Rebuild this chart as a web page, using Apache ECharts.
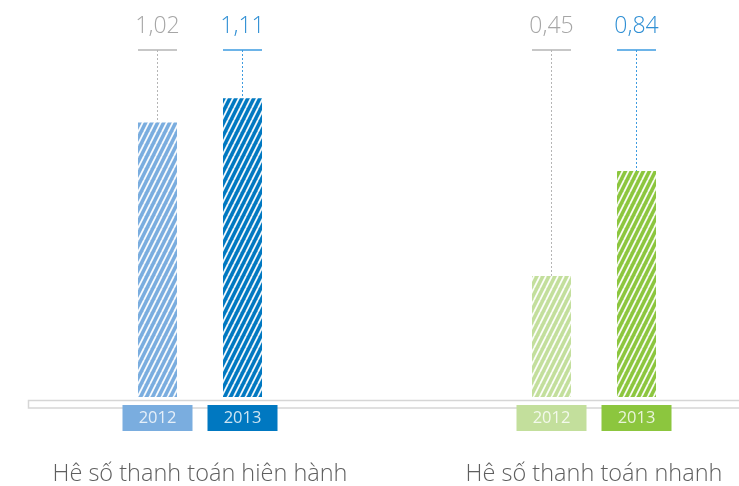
<!DOCTYPE html>
<html>
<head>
<meta charset="utf-8">
<script src="https://cdn.jsdelivr.net/npm/echarts@6/dist/echarts.min.js"></script>
<style>
  html, body { margin: 0; padding: 0; background: #fff; }
  #main { width: 739px; height: 486px; }
</style>
</head>
<body>
<div id="main"></div>
<script>
  // du lieu
  var categories = ['Hê số thanh toán hiên hành', 'Hê số thanh toán nhanh'];
  var years = ['2012', '2013'];
  var values2012 = [1.02, 0.45];
  var values2013 = [1.11, 0.84];
  var labels2012 = ['1,02', '0,45'];
  var labels2013 = ['1,11', '0,84'];

  var barColors = {
    '2012': ['#7aaddf', '#c3df9c'],
    '2013': ['#0078c1', '#8cc63e']
  };
  var labelColors = { '2012': '#a6a6a6', '2013': '#2f8fd4' };
  var lineColors = { '2012': '#b5b5b5', '2013': '#3d9be0' };

  var BAR_W = 39;
  var OFFSET = 42.5;

  // truc x: 2 nhom, cach nhau bang mot o trong
  var axisCats = [categories[0], '', categories[1]];
  function slot(i) { return i * 2; }

  // soc trang
  function hatch(color) {
    var c = document.createElement('canvas');
    c.width = 6; c.height = 12;
    var g = c.getContext('2d');
    g.fillStyle = color;
    g.fillRect(0, 0, 6, 12);
    g.strokeStyle = 'rgba(255,255,255,0.95)';
    g.lineWidth = 1.8;
    for (var k = -1; k <= 1; k++) {
      g.beginPath();
      g.moveTo(k * 6, 12);
      g.lineTo(k * 6 + 6, 0);
      g.stroke();
    }
    return { image: c, repeat: 'repeat' };
  }

  function barData(year, vals) {
    var out = axisCats.map(function () { return '-'; });
    vals.forEach(function (v, i) {
      out[slot(i)] = { value: v, itemStyle: { color: hatch(barColors[year][i]) } };
    });
    return out;
  }

  function annotate(year, offset, labels) {
    return function (params, api) {
      var cat = api.value(0), v = api.value(1);
      var base = api.coord([cat, 0]);
      var top = api.coord([cat, v]);
      var cs = params.coordSys;
      var x = base[0] + offset;
      var lineY = cs.y + 50;
      return {
        type: 'group',
        children: [
          {
            type: 'text',
            style: {
              x: x, y: cs.y + 26.5, text: labels[params.dataIndex],
              align: 'center', verticalAlign: 'middle',
              fontFamily: 'Open Sans', fontSize: 23, fontWeight: 300,
              fill: labelColors[year]
            }
          },
          {
            type: 'line',
            shape: { x1: x - BAR_W / 2, y1: lineY, x2: x + BAR_W / 2, y2: lineY },
            style: { stroke: lineColors[year], lineWidth: 1.5 }
          },
          {
            type: 'line',
            shape: { x1: x, y1: lineY, x2: x, y2: top[1] },
            style: { stroke: lineColors[year], lineWidth: 1, lineDash: [2, 2] }
          },
          {
            type: 'rect',
            shape: { x: x - 35, y: base[1] + 8, width: 70, height: 26 },
            style: { fill: barColors[year][params.dataIndex] }
          },
          {
            type: 'text',
            style: {
              x: x, y: base[1] + 21.5, text: year,
              align: 'center', verticalAlign: 'middle',
              fontFamily: 'Open Sans', fontSize: 16.5,
              fill: 'rgba(255,255,255,0.8)'
            }
          }
        ]
      };
    };
  }

  var chart = echarts.init(document.getElementById('main'));
  chart.setOption({
    animation: false,
    grid: { left: 101.5, top: 0, width: 591, height: 400, containLabel: false },
    xAxis: {
      type: 'category',
      data: axisCats,
      axisLine: { show: false },
      axisTick: { show: false },
      axisLabel: {
        margin: 65, fontFamily: 'Open Sans', fontSize: 23.5, fontWeight: 300,
        color: '#5f5f5f', interval: 0
      }
    },
    yAxis: {
      type: 'value', min: 0, max: 1.475,
      show: false, splitLine: { show: false }
    },
    graphic: [{
      type: 'rect',
      shape: { x: 28.5, y: 400.5, width: 740, height: 7.5 },
      style: { fill: 'none', stroke: '#d6d6d6', lineWidth: 1.5 },
      z: 0
    }],
    series: [
      {
        name: years[0], type: 'bar', barWidth: BAR_W, barGap: '118%',
        data: barData('2012', values2012)
      },
      {
        name: years[1], type: 'bar', barWidth: BAR_W,
        data: barData('2013', values2013)
      },
      {
        type: 'custom', renderItem: annotate('2012', -OFFSET, labels2012),
        data: values2012.map(function (v, i) { return [slot(i), v]; }), z: 3
      },
      {
        type: 'custom', renderItem: annotate('2013', OFFSET, labels2013),
        data: values2013.map(function (v, i) { return [slot(i), v]; }), z: 3
      }
    ]
  });
</script>
</body>
</html>
